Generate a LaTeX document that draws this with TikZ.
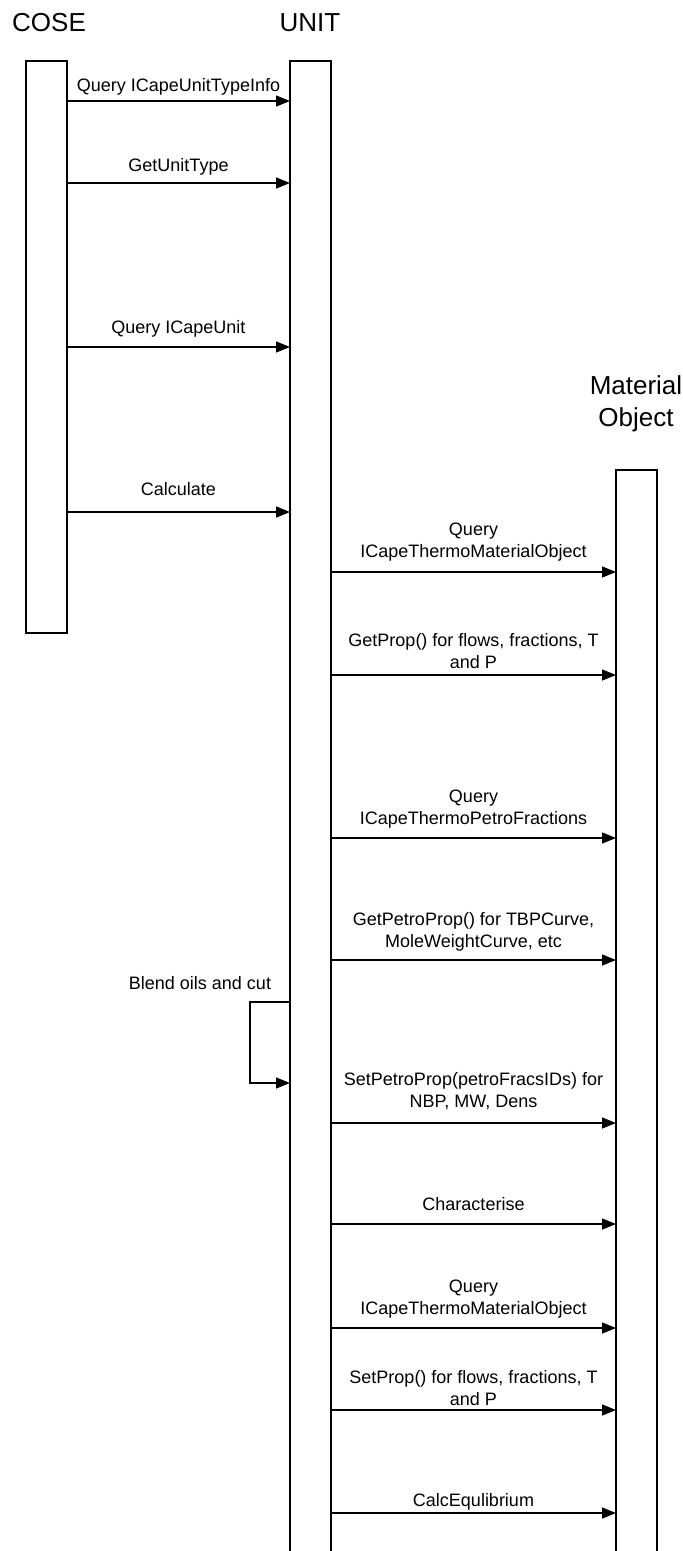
\documentclass[tikz,border=0pt]{standalone}
\usepackage{fontspec}
\setmainfont{Liberation Sans}
\usetikzlibrary{arrows.meta}
\tikzset{
  life/.style={draw, line width=1.4pt, fill=white, minimum width=41pt, inner sep=0pt, outer sep=0pt},
  msg/.style={line width=1.4pt, -{Triangle[length=14pt,width=11pt]}},
  lbl/.style={font=\fontsize{18pt}{22pt}\selectfont, align=center, inner sep=0pt},
  head/.style={font=\fontsize{26pt}{32pt}\selectfont, align=center, inner sep=0pt}
}
\begin{document}
\begin{tikzpicture}[x=1pt,y=-1pt]
\useasboundingbox (0,0) rectangle (683,1551);
% heads
\node[head] (hcose) at (49,23) {COSE};
\node[head] (hunit) at (310,23) {UNIT};
\node[head] (hmat) at (636,404) {Material\\Object};
% lifelines
\node[life, minimum height=572pt] (cose) at (46.5,347) {};
\node[life, minimum height=1510pt] (unit) at (310.5,816) {};
\node[life, minimum height=1100pt] (mat) at (636.5,1020) {};
% COSE -> UNIT
\node[lbl, anchor=base] (l1) at (178.5,91) {Query ICapeUnitTypeInfo};
\draw[msg] (cose.east |- 0,101) -- (unit.west |- 0,101);
\node[lbl, anchor=base] (l2) at (178.5,171) {GetUnitType};
\draw[msg] (cose.east |- 0,183) -- (unit.west |- 0,183);
\node[lbl, anchor=base] (l3) at (178.5,333) {Query ICapeUnit};
\draw[msg] (cose.east |- 0,347) -- (unit.west |- 0,347);
\node[lbl, anchor=base] (l4) at (178.5,495) {Calculate};
\draw[msg] (cose.east |- 0,512) -- (unit.west |- 0,512);
% UNIT -> Material Object
\node[lbl, anchor=base] (m1) at (473.5,557) {Query\\ICapeThermoMaterialObject};
\draw[msg] (unit.east |- 0,572) -- (mat.west |- 0,572);
\node[lbl, anchor=base] (m2) at (473.5,668) {GetProp() for flows, fractions, T\\and P};
\draw[msg] (unit.east |- 0,675) -- (mat.west |- 0,675);
\node[lbl, anchor=base] (m3) at (473.5,824) {Query\\ICapeThermoPetroFractions};
\draw[msg] (unit.east |- 0,838) -- (mat.west |- 0,838);
\node[lbl, anchor=base] (m4) at (473.5,947) {GetPetroProp() for TBPCurve,\\MoleWeightCurve, etc};
\draw[msg] (unit.east |- 0,960) -- (mat.west |- 0,960);
% self loop
\node[lbl, anchor=base] (bl) at (200,989) {Blend oils and cut};
\coordinate (lpA) at (250,1002);
\coordinate (lpB) at (250,1083);
\draw[msg] (unit.west |- lpA) -- (lpA) -- (lpB) -- (unit.west |- lpB);
\node[lbl, anchor=base] (m5) at (473.5,1107) {SetPetroProp(petroFracsIDs) for\\NBP, MW, Dens};
\draw[msg] (unit.east |- 0,1123) -- (mat.west |- 0,1123);
\node[lbl, anchor=base] (m6) at (473.5,1210) {Characterise};
\draw[msg] (unit.east |- 0,1224) -- (mat.west |- 0,1224);
\node[lbl, anchor=base] (m7) at (473.5,1314) {Query\\ICapeThermoMaterialObject};
\draw[msg] (unit.east |- 0,1328) -- (mat.west |- 0,1328);
\node[lbl, anchor=base] (m8) at (473.5,1405) {SetProp() for flows, fractions, T\\and P};
\draw[msg] (unit.east |- 0,1410) -- (mat.west |- 0,1410);
\node[lbl, anchor=base] (m9) at (473.5,1506) {CalcEqulibrium};
\draw[msg] (unit.east |- 0,1513) -- (mat.west |- 0,1513);
\end{tikzpicture}
\end{document}
